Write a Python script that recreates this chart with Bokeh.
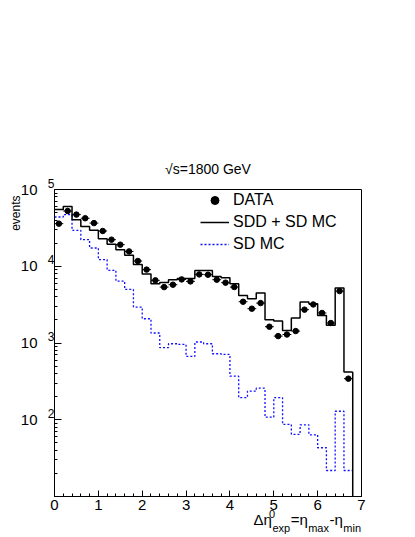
import numpy as np
from bokeh.plotting import figure
from bokeh.models import (Legend, LegendItem, SingleIntervalTicker, FixedTicker,
                          Range1d, CustomJSTickFormatter, LogAxis, LinearAxis,
                          Title)
from bokeh.embed import file_html
from bokeh.resources import INLINE

FONT = "Liberation Sans"

# ---------------- data ----------------
bin_edges = [0.0, 0.2, 0.4, 0.6, 0.8, 1.0, 1.2, 1.4, 1.6, 1.8, 2.0, 2.2, 2.4,
             2.6, 2.8, 3.0, 3.2, 3.4, 3.6, 3.8, 4.0, 4.2, 4.4, 4.6, 4.8, 5.0,
             5.2, 5.4, 5.6, 5.8, 6.0, 6.2, 6.4, 6.6, 6.8]

data_events = [35900, 52500, 47100, 42200, 36500, 28800, 22200, 19100, 15600,
               11700, 9040, 6550, 5350, 5750, 6740, 6350, 7830, 7760, 6680,
               6110, 5360, 3450, 2800, 3310, 1630, 1230, 1290, 1430, 2720,
               3180, 2460, 1820, 4750, 343]

sdd_sd_mc = [54700, 60000, 40400, 33000, 29400, 22900, 19300, 16400, 13900,
             10500, 7950, 5930, 6160, 6680, 6950, 6950, 8830, 8830, 7380,
             7100, 5930, 4170, 3770, 4470, 2010, 1930, 1450, 2110, 3410,
             3250, 2290, 1700, 5200, 420]

sd_mc = [43800, 47100, 29400, 22200, 17300, 12200, 8850, 6410, 4990, 2940,
         2070, 1350, 869, 978, 959, 668, 1030, 978, 724, 710, 370, 194, 236,
         258, 108, 194, 86.9, 64.5, 86, 63.7, 43.2, 21.8, 129, 21.8]

y_decades = [1, 2, 3, 4, 5]
y_labelled_decades = [2, 3, 4, 5]

title_text = "√s=1800 GeV"
y_title = "events"
x_title_main = ["Δη", "=η", "-η"]
x_title_sup = ["0"]
x_title_sub = ["exp", "max", "min"]

X_MIN, X_MAX = 0, 7
Y_MIN, Y_MAX = 10, 1e5

# ---------------- figure geometry ----------------
W, H = 414, 536
BL, BT, BR, BB = 54, 189, 53, 40
FRAME_L = BL
FRAME_W = W - BL - BR


def dx(px):
    """screen x (px) -> data x, used only to place the x-title pieces"""
    return float(X_MIN + (px - FRAME_L) / FRAME_W * (X_MAX - X_MIN))


p = figure(width=W, height=H, x_range=Range1d(X_MIN, X_MAX),
           y_range=Range1d(Y_MIN, Y_MAX), y_axis_type="log",
           output_backend="svg", toolbar_location=None,
           min_border_left=BL, min_border_right=BR,
           min_border_top=BT, min_border_bottom=BB)
p.grid.visible = False
p.outline_line_color = "black"
p.outline_line_width = 1
p.background_fill_color = "white"
p.border_fill_color = "white"

# title
p.title.text = title_text
p.title.text_font = FONT
p.title.text_font_size = "14px"
p.title.text_font_style = "normal"
p.title.text_color = "black"
p.title.align = "center"
p.title.offset = 3
p.title.standoff = 24
p.title.vertical_align = "middle"

# x axis
p.xaxis.ticker = SingleIntervalTicker(interval=1, num_minor_ticks=5)
p.xaxis.major_tick_in = 6
p.xaxis.major_tick_out = 0
p.xaxis.minor_tick_in = 3
p.xaxis.minor_tick_out = 0
p.xaxis.major_label_text_font = FONT
p.xaxis.major_label_text_font_size = "15px"
p.xaxis.major_label_text_color = "black"
p.xaxis.major_label_standoff = 3
p.xaxis.axis_line_color = "black"
p.xaxis.major_tick_line_color = "black"
p.xaxis.minor_tick_line_color = "black"

# y axis: ticks + exponent labels (raised by an empty 2nd line)
minor = []
for d in y_decades[:-1]:
    for m in range(2, 10):
        minor.append(m * 10 ** d)
p.yaxis.ticker = FixedTicker(ticks=[10 ** d for d in y_labelled_decades],
                             minor_ticks=minor)
p.yaxis.formatter = CustomJSTickFormatter(
    code="return String(Math.round(Math.log10(tick))) + '\\n\\u00a0';")
p.yaxis.major_label_text_font = FONT
p.yaxis.major_label_text_font_size = "12px"
p.yaxis.major_label_text_line_height = 0.85
p.yaxis.major_label_text_color = "black"
p.yaxis.major_label_standoff = 0
p.yaxis.major_tick_in = 7
p.yaxis.major_tick_out = 0
p.yaxis.minor_tick_in = 3
p.yaxis.minor_tick_out = 0
p.yaxis.axis_line_color = "black"
p.yaxis.major_tick_line_color = "black"
p.yaxis.minor_tick_line_color = "black"

# "10" mantissa labels
ten_axis = LogAxis(ticker=FixedTicker(ticks=[10 ** d for d in y_labelled_decades],
                                      minor_ticks=[]),
                   formatter=CustomJSTickFormatter(code="return '10';"),
                   major_label_text_font=FONT, major_label_text_font_size="15px",
                   major_label_text_color="black", major_label_standoff=7,
                   axis_line_alpha=0, major_tick_in=0, major_tick_out=0,
                   minor_tick_in=0, minor_tick_out=0)
p.add_layout(ten_axis, "left")

# y title
p.add_layout(Title(text=y_title, align="right", vertical_align="middle",
                   text_font=FONT, text_font_size="12px",
                   text_font_style="normal", text_color="black",
                   standoff=-13, offset=6), "left")


# x title: superscript row, main row and subscript row (extra label axes)
def label_axis(px_list, labels, size, standoff):
    return LinearAxis(
        ticker=FixedTicker(ticks=[dx(v) for v in px_list], minor_ticks=[]),
        formatter=CustomJSTickFormatter(args=dict(labels=labels),
                                        code="return labels[index];"),
        major_label_text_font=FONT, major_label_text_font_size=f"{size}px",
        major_label_text_color="black", major_label_standoff=standoff,
        axis_line_alpha=0, major_tick_in=0, major_tick_out=0,
        minor_tick_in=0, minor_tick_out=0)


p.add_layout(label_axis([271.5], x_title_sup, 11, -3), "below")
p.add_layout(label_axis([262.2, 298.7, 335.7], x_title_main, 15, -10), "below")
p.add_layout(label_axis([280.8, 318.1, 351.7], x_title_sub, 11, -9), "below")

# ---------------- glyphs ----------------
edges = np.array(bin_edges)
centers = (edges[:-1] + edges[1:]) / 2

blue = p.step(x=bin_edges, y=sd_mc + [sd_mc[-1]], mode="after",
              line_color="#1010ff", line_width=1.3, line_dash="2 2")
black = p.step(x=bin_edges, y=sdd_sd_mc + [sdd_sd_mc[-1]], mode="after",
               line_color="black", line_width=1.5)
p.segment(x0=[bin_edges[-1]], y0=[sdd_sd_mc[-1]], x1=[bin_edges[-1]],
          y1=[Y_MIN], line_color="black", line_width=1.5)

p.segment(x0=centers - 0.1, x1=centers + 0.1, y0=data_events, y1=data_events,
          line_color="black", line_width=1)
pts = p.scatter(x=centers, y=data_events, size=5.5, marker="circle",
                fill_color="black", line_color="black")

legend = Legend(items=[LegendItem(label="DATA", renderers=[pts]),
                       LegendItem(label="SDD + SD MC", renderers=[black]),
                       LegendItem(label="SD MC", renderers=[blue])],
                location=(146, 242), glyph_width=29, glyph_height=20,
                label_height=20, spacing=2, padding=0, margin=0,
                label_standoff=4, border_line_alpha=0,
                background_fill_alpha=0,
                label_text_font=FONT, label_text_font_size="16px",
                label_text_color="black")
p.add_layout(legend)

open("out.html", "w").write(file_html(p, INLINE))
